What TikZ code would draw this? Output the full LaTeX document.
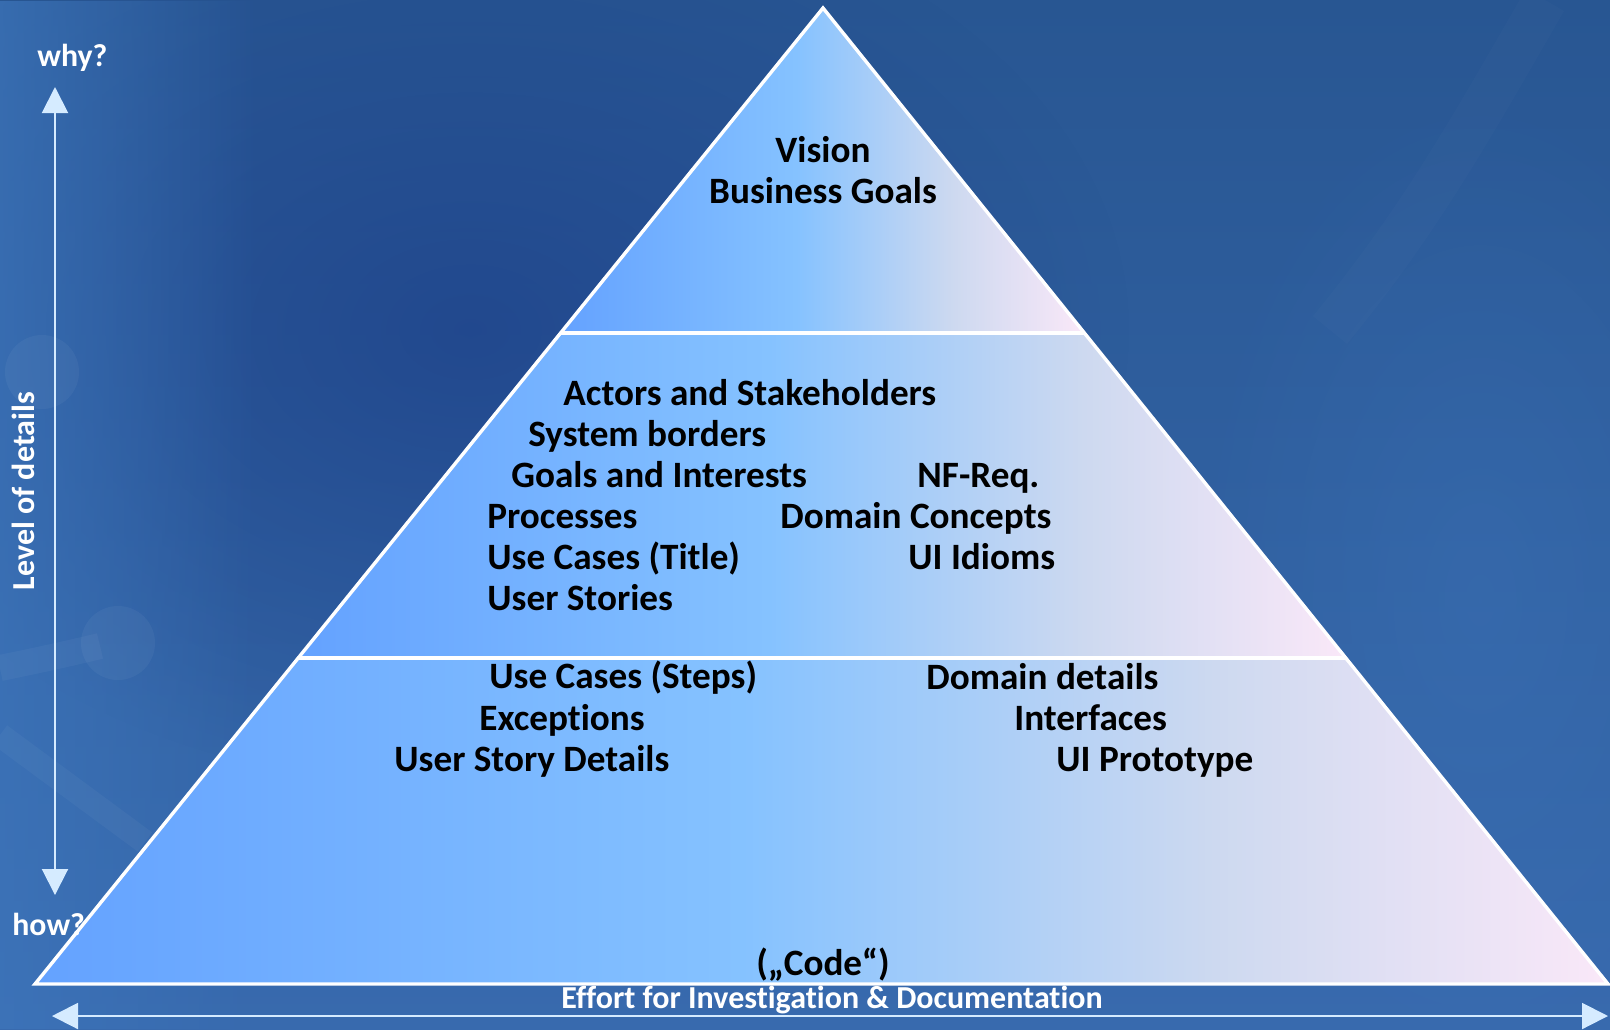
\documentclass[tikz,border=0pt]{standalone}
\usepackage{fontspec}
\setmainfont{Carlito}[Ligatures={NoCommon}]
\usetikzlibrary{arrows.meta,calc,fadings}

\definecolor{arrowc}{RGB}{213,235,255}
\definecolor{bgtop}{RGB}{40,86,146}
\definecolor{bgbot}{RGB}{56,106,174}
\definecolor{bgdark}{RGB}{30,66,138}
\definecolor{bglight}{RGB}{62,118,188}

\pgfdeclarehorizontalshading{pyrshade}{100bp}{%
  rgb(0bp)=(0.392,0.635,1);
  rgb(25bp)=(0.392,0.635,1);
  rgb(47.5bp)=(0.522,0.761,1);
  rgb(62.5bp)=(0.804,0.851,0.941);
  rgb(75bp)=(0.98,0.91,0.973);
  rgb(100bp)=(0.98,0.91,0.973)}

\tikzfading[name=softblob, inner color=transparent!0, outer color=transparent!100]

\tikzset{
  ptext/.style={font=\fontsize{18.6}{20}\selectfont\bfseries, text=black, inner sep=0pt},
  wlabel/.style={font=\fontsize{15.9}{17}\selectfont\bfseries, text=white, inner sep=0pt},
  effort/.style={font=\fontsize{16}{17}\selectfont\bfseries, text=white, inner sep=0pt},
  axisarrow/.style={draw=arrowc, fill=arrowc, line width=1pt,
    arrows={Triangle[length=13pt,width=13pt]-Triangle[length=13pt,width=13pt]}},
  section/.style={shading=pyrshade},
  outline/.style={draw=white, line width=1.7pt, line join=miter},
  divider/.style={draw=white, line width=2pt},
}

\begin{document}
\begin{tikzpicture}[x=0.5pt,y=-0.5pt]
\useasboundingbox (0,0) rectangle (1610,1029);

% background
\shade[top color=bgtop, bottom color=bgbot] (0,0) rectangle (1610,1029);
\fill[bgdark, fill opacity=0.75, path fading=softblob] (470,330) ellipse (330pt and 230pt);
\fill[bglight, fill opacity=0.7, path fading=east] (0,0) rectangle (260,1029);
\fill[bglight, fill opacity=0.35, path fading=softblob] (1480,600) ellipse (150pt and 260pt);
% faint decorations
\fill[white, fill opacity=0.045] (42,372) circle (18.5pt);
\fill[white, fill opacity=0.045] (118,643) circle (18.5pt);
\draw[white, draw opacity=0.04, line width=13pt] (0,668) .. controls (40,660) and (75,652) .. (100,646);
\draw[white, draw opacity=0.035, line width=12pt] (0,735) -- (145,842);
\draw[white, draw opacity=0.015, line width=22pt] (1545,0) .. controls (1470,130) and (1420,220) .. (1330,330);

% pyramid geometry
\coordinate (A) at (823,8);
\coordinate (L) at (35,984);
\coordinate (R) at (1608,984);
\coordinate (D1L) at ($(A)!0.333!(L)$);
\coordinate (D1R) at ($(A)!0.333!(R)$);
\coordinate (D2L) at ($(A)!0.666!(L)$);
\coordinate (D2R) at ($(A)!0.666!(R)$);

\shade[section] (A) -- (D1L) -- (D1R) -- cycle;
\shade[section] (D1L) -- (D2L) -- (D2R) -- (D1R) -- cycle;
\shade[section] (D2L) -- (L) -- (R) -- (D2R) -- cycle;
\path[outline] (A) -- (L) -- (R) -- cycle;
\path[divider] (D1L) -- (D1R);
\path[divider] (D2L) -- (D2R);

% top section
\node[ptext, anchor=base] (vision) at (823,162) {Vision};
\node[ptext, anchor=base] (bgoals) at (823,203) {Business Goals};

% middle section
\node[ptext, anchor=base west] (actors) at (563,405) {Actors and Stakeholders};
\node[ptext, anchor=base west] (borders) at (528,446) {System borders};
\node[ptext, anchor=base west] (interests) at (511,487) {Goals and Interests};
\node[ptext, anchor=base west] (nfreq) at (917,487) {NF-Req.};
\node[ptext, anchor=base west] (processes) at (487,528) {Processes};
\node[ptext, anchor=base west] (concepts) at (780,528) {Domain Concepts};
\node[ptext, anchor=base west] (uctitle) at (487,569) {Use Cases (Title)};
\node[ptext, anchor=base west] (idioms) at (908,569) {UI Idioms};
\node[ptext, anchor=base west] (stories) at (487,610) {User Stories};

% bottom section
\node[ptext, anchor=base west] (ucsteps) at (489,688) {Use Cases (Steps)};
\node[ptext, anchor=base west] (ddetails) at (926,689) {Domain details};
\node[ptext, anchor=base west] (exceptions) at (479,730) {Exceptions};
\node[ptext, anchor=base west] (interfaces) at (1014,730) {Interfaces};
\node[ptext, anchor=base west] (usdetails) at (394,771) {User Story Details};
\node[ptext, anchor=base west] (uiproto) at (1056,771) {UI Prototype};
\node[ptext, anchor=base] (code) at (823,975) {(„Code“)};

% axes
\coordinate (vtop) at (55,87);
\coordinate (vbot) at (55,895);
\coordinate (hleft) at (52,1016);
\coordinate (hright) at (1608,1016);
\path[axisarrow] (vtop) -- (vbot);
\path[axisarrow] (hleft) -- (hright);

\node[wlabel, anchor=base west] (why) at (37,66) {why?};
\node[wlabel, anchor=base west] (how) at (12,935) {how?};
\node[wlabel, font=\fontsize{16}{18}\selectfont\bfseries, rotate=90] (level) at (23,491) {Level of details};
\node[effort, anchor=base] (effortlbl) at (832,1008) {Effort for Investigation \& Documentation};
\end{tikzpicture}
\end{document}
